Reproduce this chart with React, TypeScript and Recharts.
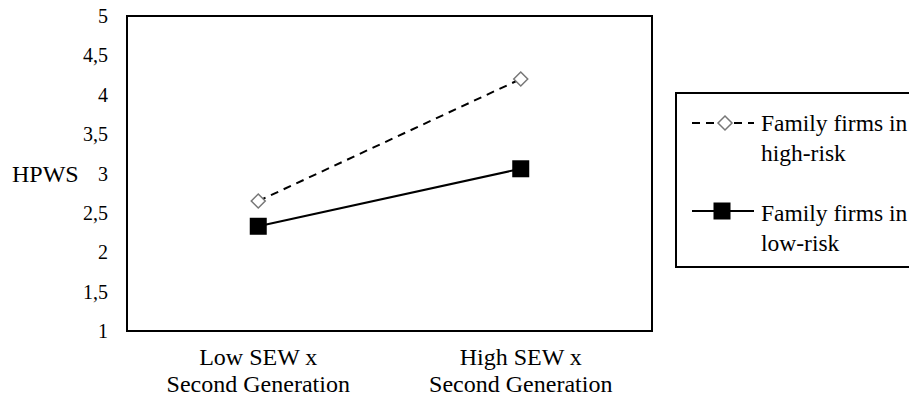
import {
  Legend,
  Line,
  LineChart,
  ReferenceArea,
  XAxis,
  YAxis,
} from "recharts";

const categories = ["Low SEW x\nSecond Generation", "High SEW x\nSecond Generation"];
const highRisk = [2.65, 4.2];
const lowRisk = [2.33, 3.06];
const yTicks = [1, 1.5, 2, 2.5, 3, 3.5, 4, 4.5, 5];
const seriesNames = ["Family firms in\nhigh-risk", "Family firms in\nlow-risk"];

const FONT = "Liberation Serif";

const data = categories.map((c, i) => ({
  name: c,
  high: highRisk[i],
  low: lowRisk[i],
}));

const css = `
  .serif-chart, .serif-chart text, .serif-chart tspan {
    font-family: "Liberation Serif", "Times New Roman", serif !important;
  }
`;

// plain <text> without tspans
const T = ({ x, y, size, anchor = "start", children }: any) => (
  <text
    x={x}
    y={y}
    fontSize={size}
    fontFamily={FONT}
    style={{ fontFamily: `"${FONT}"` }}
    textAnchor={anchor}
    fill="#000"
  >
    {children}
  </text>
);

const Diamond = ({ cx, cy }: any) => (
  <polygon
    points={`${cx - 7},${cy} ${cx},${cy - 7} ${cx + 7},${cy} ${cx},${cy + 7}`}
    fill="#fff"
    stroke="#777"
    strokeWidth={1.5}
  />
);

const Square = ({ cx, cy }: any) => (
  <rect x={cx - 8.5} y={cy - 8.5} width={17} height={17} fill="#000" />
);

const CategoryTick = ({ x, y, payload }: any) => (
  <g>
    {String(payload.value)
      .split("\n")
      .map((l, i) => (
        <T key={i} x={x} y={y + 34 + i * 27} size={24} anchor="middle">
          {l}
        </T>
      ))}
  </g>
);

const ValueTick = ({ x, y, payload }: any) => (
  <T x={x} y={y + 7} size={20} anchor="end">
    {String(payload.value).replace(".", ",")}
  </T>
);

const AxisTitle = ({ viewBox }: any) => (
  <T x={12} y={viewBox.y + viewBox.height / 2 + 8} size={24}>
    HPWS
  </T>
);

const renderLegend = () => (
  <svg width={240} height={176} style={{ display: "block" }}>
    <rect x={1} y={1} width={250} height={174} fill="#fff" stroke="#000" strokeWidth={2} />
    {/* high-risk entry */}
    <line x1={17} x2={79} y1={31} y2={31} stroke="#000" strokeWidth={2} strokeDasharray="8 6" />
    <Diamond cx={50} cy={31} />
    {/* low-risk entry */}
    <line x1={17} x2={79} y1={119} y2={119} stroke="#000" strokeWidth={2} />
    <Square cx={47} cy={119} />
    {seriesNames.map((name, i) =>
      name.split("\n").map((l, j) => (
        <T key={`${i}-${j}`} x={86} y={39 + i * 90 + j * 30} size={23.5}>
          {l}
        </T>
      ))
    )}
  </svg>
);

export default function App() {
  return (
    <div
      className="serif-chart"
      style={{
        position: "absolute",
        left: 0,
        top: 0,
        width: 909,
        height: 399,
        overflow: "hidden",
        background: "#fff",
      }}
    >
      <style>{css}</style>
      <LineChart
        width={909}
        height={399}
        data={data}
        margin={{ top: 16, right: 257, bottom: 0, left: 0 }}
      >
        <XAxis
          dataKey="name"
          scale="band"
          height={68}
          axisLine={false}
          tickLine={false}
          tickSize={0}
          tickMargin={0}
          interval={0}
          tick={<CategoryTick />}
        />
        <YAxis
          width={127}
          domain={[1, 5]}
          ticks={yTicks}
          axisLine={false}
          tickLine={false}
          tickSize={0}
          tickMargin={19}
          tick={<ValueTick />}
          label={<AxisTitle />}
        />
        <ReferenceArea
          y1={1}
          y2={5}
          fill="none"
          fillOpacity={0}
          stroke="#000"
          strokeWidth={2}
          ifOverflow="visible"
        />
        <Line
          dataKey="high"
          stroke="#000"
          strokeWidth={2}
          strokeDasharray="8 6"
          dot={<Diamond />}
          activeDot={false}
          isAnimationActive={false}
        />
        <Line
          dataKey="low"
          stroke="#000"
          strokeWidth={2}
          dot={<Square />}
          activeDot={false}
          isAnimationActive={false}
        />
        <Legend
          layout="horizontal"
          verticalAlign="middle"
          align="center"
          wrapperStyle={{ left: 675, top: 92, width: 240, height: 176 }}
          content={renderLegend}
        />
      </LineChart>
    </div>
  );
}
